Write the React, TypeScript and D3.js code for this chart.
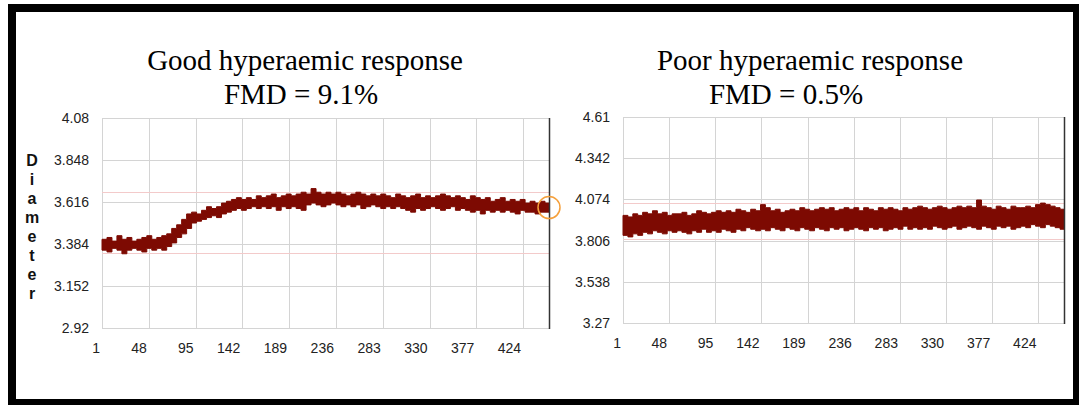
import * as React from "react";
import * as d3 from "d3";

// frames 1..450, decimated into bins of 5 frames (min / max envelope of each bin)
const binStarts = d3.range(1, 451, 5);
const xTicks = [1, 48, 95, 142, 189, 236, 283, 330, 377, 424];

const goodTicks = [2.92, 3.152, 3.384, 3.616, 3.848, 4.08];
const goodRefLines = [3.333, 3.673];
const goodMax = [
  3.41, 3.42, 3.40, 3.43, 3.41, 3.42, 3.40, 3.41, 3.42, 3.43, 3.41, 3.42, 3.43, 3.44, 3.47, 3.49, 3.52, 3.55, 3.56, 3.55,
  3.57, 3.59, 3.58, 3.59, 3.61, 3.62, 3.63, 3.64, 3.63, 3.64, 3.63, 3.65, 3.64, 3.65, 3.66, 3.64, 3.65, 3.66, 3.65, 3.66,
  3.67, 3.66, 3.69, 3.67, 3.66, 3.67, 3.66, 3.67, 3.66, 3.65, 3.66, 3.67, 3.66, 3.65, 3.66, 3.65, 3.66, 3.65, 3.64, 3.66,
  3.65, 3.64, 3.65, 3.66, 3.64, 3.65, 3.64, 3.65, 3.66, 3.65, 3.64, 3.65, 3.64, 3.63, 3.65, 3.64, 3.63, 3.64, 3.62, 3.63,
  3.64, 3.62, 3.63, 3.62, 3.63, 3.61, 3.62, 3.61, 3.62, 3.61,
];
const goodMin = [
  3.35, 3.34, 3.36, 3.35, 3.33, 3.35, 3.36, 3.35, 3.34, 3.36, 3.35, 3.36, 3.35, 3.37, 3.39, 3.42, 3.44, 3.47, 3.50, 3.51,
  3.52, 3.53, 3.54, 3.53, 3.55, 3.56, 3.57, 3.58, 3.57, 3.58, 3.59, 3.58, 3.59, 3.58, 3.59, 3.57, 3.59, 3.58, 3.59, 3.58,
  3.57, 3.60, 3.61, 3.60, 3.59, 3.60, 3.61, 3.60, 3.59, 3.60, 3.59, 3.60, 3.58, 3.59, 3.60, 3.59, 3.58, 3.59, 3.58, 3.59,
  3.58, 3.57, 3.56, 3.58, 3.57, 3.58, 3.59, 3.58, 3.57, 3.58, 3.59, 3.57, 3.58, 3.57, 3.56, 3.57, 3.55, 3.57, 3.56, 3.57,
  3.56, 3.57, 3.56, 3.55, 3.57, 3.56, 3.56, 3.55, 3.56, 3.56,
];

const poorTicks = [3.27, 3.538, 3.806, 4.074, 4.342, 4.61];
const poorRefLines = [3.815, 4.048];
const poorMax = [
  3.97, 3.96, 3.98, 3.97, 3.99, 3.98, 4.00, 3.98, 3.99, 3.97, 3.98, 3.98, 3.99, 3.97, 3.98, 4.00, 3.99, 3.98, 3.99, 4.00,
  3.99, 4.00, 3.99, 4.01, 4.00, 3.99, 4.01, 4.00, 4.04, 4.02, 4.00, 4.01, 3.99, 4.00, 4.01, 4.00, 4.02, 4.01, 4.00, 4.01,
  4.02, 4.01, 4.02, 4.00, 4.01, 4.02, 4.01, 4.02, 4.00, 4.02, 4.01, 4.00, 4.02, 4.01, 4.02, 4.01, 4.00, 4.02, 4.01, 4.02,
  4.03, 4.02, 4.01, 4.02, 4.03, 4.02, 4.01, 4.02, 4.03, 4.02, 4.03, 4.02, 4.07, 4.03, 4.02, 4.01, 4.03, 4.02, 4.01, 4.03,
  4.02, 4.02, 4.03, 4.02, 4.04, 4.05, 4.04, 4.03, 4.02, 4.01,
];
const poorMin = [
  3.84, 3.83, 3.85, 3.84, 3.86, 3.85, 3.87, 3.86, 3.85, 3.87, 3.86, 3.87, 3.86, 3.85, 3.87, 3.86, 3.88, 3.86, 3.87, 3.86,
  3.88, 3.87, 3.86, 3.88, 3.87, 3.89, 3.88, 3.87, 3.88, 3.87, 3.89, 3.88, 3.87, 3.89, 3.88, 3.87, 3.89, 3.88, 3.87, 3.89,
  3.88, 3.87, 3.89, 3.88, 3.89, 3.87, 3.88, 3.89, 3.88, 3.87, 3.89, 3.88, 3.89, 3.87, 3.88, 3.89, 3.88, 3.90, 3.88, 3.89,
  3.88, 3.89, 3.88, 3.90, 3.89, 3.88, 3.89, 3.90, 3.88, 3.89, 3.90, 3.89, 3.88, 3.90, 3.89, 3.88, 3.90, 3.89, 3.90, 3.88,
  3.89, 3.90, 3.89, 3.91, 3.90, 3.89, 3.91, 3.90, 3.89, 3.88,
];

const panels = [
  {
    title: "Good hyperaemic response", fmd: "FMD = 9.1%",
    ticks: goodTicks, refs: goodRefLines, hi: goodMax, lo: goodMin,
    left: 102, right: 549, top: 118, bottom: 328,
    t1x: 305, t2x: 301, yLabel: true, marker: true,
  },
  {
    title: "Poor hyperaemic response", fmd: "FMD = 0.5%",
    ticks: poorTicks, refs: poorRefLines, hi: poorMax, lo: poorMin,
    left: 623, right: 1064, top: 117, bottom: 323,
    t1x: 810, t2x: 786, yLabel: false, marker: false,
  },
];

const tickFont = "'Liberation Sans', Arial, sans-serif";
const titleFont = "'Liberation Serif', 'Times New Roman', serif";

function drawChart(svgRef) {
  const svg = d3.select(svgRef.current);
  svg.selectAll("*").remove();

  svg.append("rect").attr("width", 1079).attr("height", 405).attr("fill", "#fff");

  panels.forEach((p) => {
    const x = d3.scaleLinear().domain([1, 450]).range([p.left, p.right]);
    const y = d3.scaleLinear().domain([p.ticks[0], p.ticks[p.ticks.length - 1]]).range([p.bottom, p.top]);
    const g = svg.append("g");

    // grid
    g.selectAll(".hgrid").data(p.ticks).enter().append("line")
      .attr("x1", p.left).attr("x2", p.right)
      .attr("y1", (d) => Math.round(y(d)) + 0.5).attr("y2", (d) => Math.round(y(d)) + 0.5)
      .attr("stroke", "#d4d4d4");
    g.selectAll(".vgrid").data(xTicks).enter().append("line")
      .attr("x1", (d) => Math.round(x(d)) + 0.5).attr("x2", (d) => Math.round(x(d)) + 0.5)
      .attr("y1", p.top).attr("y2", p.bottom)
      .attr("stroke", "#d4d4d4");

    // reference lines
    g.selectAll(".ref").data(p.refs).enter().append("line")
      .attr("x1", p.left).attr("x2", p.right)
      .attr("y1", (d) => Math.round(y(d)) + 0.5).attr("y2", (d) => Math.round(y(d)) + 0.5)
      .attr("stroke", "#f3caca");

    // diameter trace as min/max band
    const pts = binStarts.map((f, i) => ({ f, hi: p.hi[i], lo: p.lo[i] }));
    pts.push({ f: 450, hi: p.hi[p.hi.length - 1], lo: p.lo[p.lo.length - 1] });
    const area = d3.area()
      .x((d) => x(d.f))
      .y0((d) => y(d.lo))
      .y1((d) => y(d.hi))
      .curve(d3.curveStepAfter);
    g.append("path").attr("d", area(pts)).attr("fill", "#7d0a02").attr("stroke", "#7d0a02").attr("stroke-width", 1);

    // right edge
    g.append("line")
      .attr("x1", p.right + 0.5).attr("x2", p.right + 0.5)
      .attr("y1", p.top).attr("y2", p.bottom + 1)
      .attr("stroke", "#333").attr("stroke-width", 1.5);

    // tick labels
    g.selectAll(".yl").data(p.ticks).enter().append("text")
      .attr("x", p.left - 13).attr("y", (d) => y(d)).attr("dy", "0.35em")
      .attr("text-anchor", "end").attr("font-family", tickFont).attr("font-size", 14).attr("fill", "#222")
      .text((d) => String(d));
    g.selectAll(".xl").data(xTicks).enter().append("text")
      .attr("x", (d) => x(d) - 2).attr("y", p.bottom + 25)
      .attr("text-anchor", "end").attr("font-family", tickFont).attr("font-size", 14).attr("fill", "#222")
      .text((d) => String(d));

    // titles
    g.append("text").attr("x", p.t1x).attr("y", 70).attr("text-anchor", "middle")
      .attr("font-family", titleFont).attr("font-size", 29).attr("fill", "#000").text(p.title);
    g.append("text").attr("x", p.t2x).attr("y", 104).attr("text-anchor", "middle")
      .attr("font-family", titleFont).attr("font-size", 29).attr("fill", "#000").text(p.fmd);

    if (p.yLabel) {
      g.selectAll(".dl").data("Diameter".split("")).enter().append("text")
        .attr("x", 32).attr("y", (d, i) => 166 + i * 19)
        .attr("text-anchor", "middle").attr("font-family", tickFont).attr("font-weight", "bold")
        .attr("font-size", 16).attr("fill", "#111")
        .text((d) => d);
    }
    if (p.marker) {
      g.append("circle").attr("cx", x(450)).attr("cy", y(3.585)).attr("r", 11)
        .attr("fill", "none").attr("stroke", "#f5a03c").attr("stroke-width", 1.5);
    }
  });

  // black frame
  svg.append("rect").attr("x", 8).attr("y", 4).attr("width", 8).attr("height", 401).attr("fill", "#000");
  svg.append("rect").attr("x", 8).attr("y", 4).attr("width", 1071).attr("height", 8).attr("fill", "#000");
  svg.append("rect").attr("x", 1073).attr("y", 4).attr("width", 6).attr("height", 401).attr("fill", "#000");
  svg.append("rect").attr("x", 8).attr("y", 399).attr("width", 1071).attr("height", 6).attr("fill", "#000");
}

const App = () => {
  const svgRef = React.useRef(null);

  React.useEffect(() => {
    drawChart(svgRef);
  }, [svgRef]);

  return (
    <div style={{ position: "absolute", left: 0, top: 0 }}>
      <svg ref={svgRef} width={1079} height={405} style={{ display: "block" }} />
    </div>
  );
};

export default App;
